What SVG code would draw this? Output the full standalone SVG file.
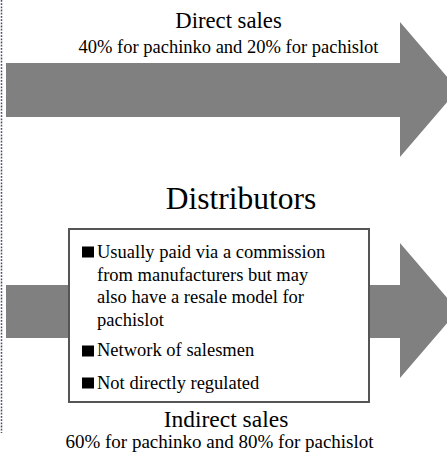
<svg xmlns="http://www.w3.org/2000/svg" width="447" height="455" viewBox="0 0 447 455">
  <style>
    .arrow { fill: #808080; }
    .t { font-family: 'Times New Roman', 'Liberation Serif', Times, serif; fill: #000; }
    .mid { text-anchor: middle; }
    .bullet { fill: #000; }
  </style>
  <rect width="447" height="455" fill="#ffffff"/>

  <!-- dotted margin rule -->
  <line x1="1.5" y1="0" x2="1.5" y2="433" stroke="#4a4f6a" stroke-width="1.5" stroke-dasharray="1.8,1.4"/>

  <g id="connectors">
    <!-- direct sales channel -->
    <polygon id="arrow-direct" class="arrow" points="6,63 400,63 400,22 458,89.5 400,157 400,117 6,117"/>
    <!-- indirect sales channel -->
    <polygon id="arrow-indirect" class="arrow" points="6,285 400,285 400,243 458,310.5 400,378 400,338 6,338"/>
  </g>

  <g id="direct-label">
    <text class="t mid" x="228.5" y="28" font-size="22.7">Direct sales</text>
    <text class="t mid" x="228.5" y="53" font-size="18.5">40% for pachinko and 20% for pachislot</text>
  </g>

  <g id="distributors">
    <text class="t mid" x="241" y="209" font-size="31.5">Distributors</text>
    <rect x="69" y="229" width="300" height="173" fill="#ffffff" stroke="#555555" stroke-width="2"/>
    <rect class="bullet" x="82" y="246.5" width="12" height="11"/>
    <text class="t" x="97" y="258" font-size="18.5">Usually paid via a commission</text>
    <text class="t" x="97" y="280.5" font-size="18.5">from manufacturers but may</text>
    <text class="t" x="97" y="303" font-size="18.5">also have a resale model for</text>
    <text class="t" x="97" y="325.5" font-size="18.5">pachislot</text>
    <rect class="bullet" x="82" y="345.5" width="12" height="11"/>
    <text class="t" x="97" y="356" font-size="18.5">Network of salesmen</text>
    <rect class="bullet" x="82" y="377.5" width="12" height="11"/>
    <text class="t" x="97" y="388.5" font-size="18.5">Not directly regulated</text>
  </g>

  <g id="indirect-label">
    <text class="t mid" x="226" y="427" font-size="23.5">Indirect sales</text>
    <text class="t mid" x="219.5" y="448" font-size="19">60% for pachinko and 80% for pachislot</text>
  </g>
</svg>
